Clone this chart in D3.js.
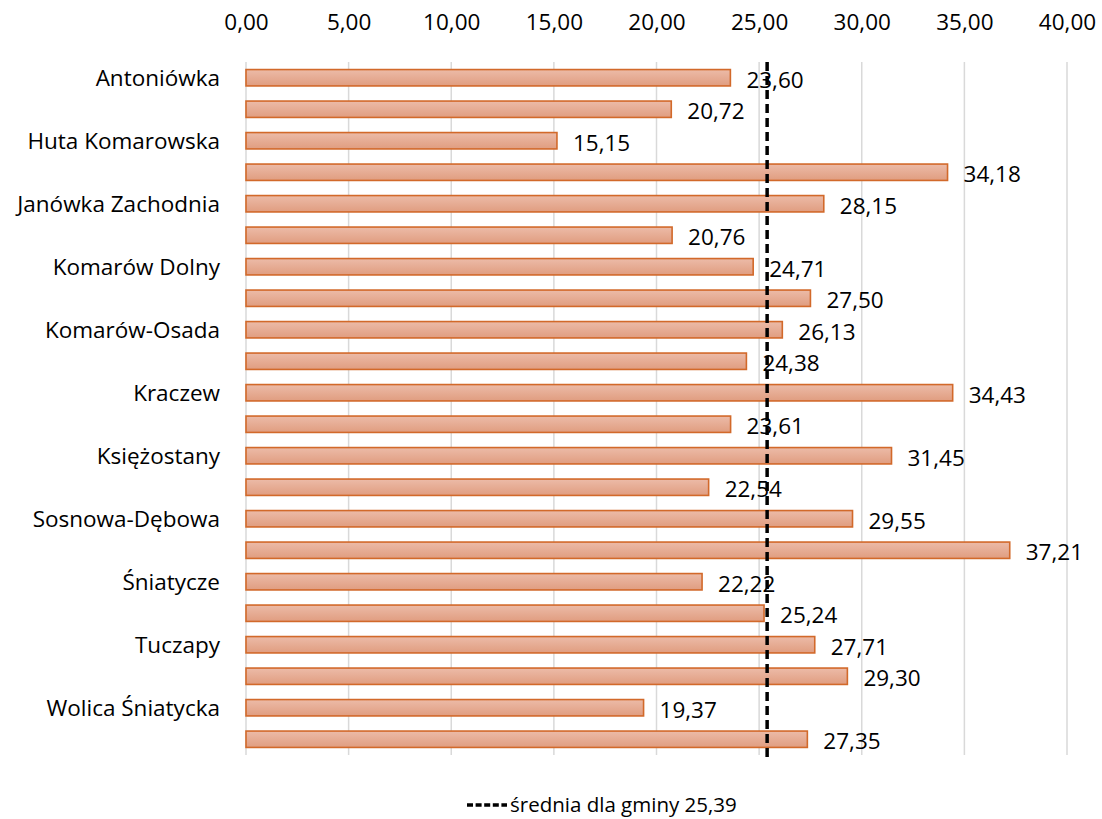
<!DOCTYPE html>
<html><head><meta charset="utf-8">
<script src="https://cdn.jsdelivr.net/npm/d3@7"></script>
<style>body{margin:0;background:#fff}svg{display:block}text{font-family:"Open Sans",sans-serif;fill:#000}</style>
</head><body>
<script>
const categories = ["Antoniówka","","Huta Komarowska","","Janówka Zachodnia","","Komarów Dolny","","Komarów-Osada","","Kraczew","","Księżostany","","Sosnowa-Dębowa","","Śniatycze","","Tuczapy","","Wolica Śniatycka",""];
const values = [23.60,20.72,15.15,34.18,28.15,20.76,24.71,27.50,26.13,24.38,34.43,23.61,31.45,22.54,29.55,37.21,22.22,25.24,27.71,29.30,19.37,27.35];
const xTicks = [0,5,10,15,20,25,30,35,40];
const average = 25.39;
const legendLabel = "średnia dla gminy 25,39";

const W = 1102, H = 819, FS = 22.5, FN = 22.5, FL = 20.5;
const svg = d3.select("body").append("svg").attr("width", W).attr("height", H);
const defs = svg.append("defs");
const g = defs.append("linearGradient").attr("id","barg").attr("x1",0).attr("y1",0).attr("x2",0).attr("y2",1);
g.append("stop").attr("offset","0%").attr("stop-color","#ecbba8");
g.append("stop").attr("offset","100%").attr("stop-color","#e09d80");

const x = d3.scaleLinear().domain([0,40]).range([246,1067]);
const y = d3.scaleBand().domain(d3.range(values.length)).range([62,755]).paddingInner(0.48).paddingOuter(0.24);
const fmt = v => d3.format(".2f")(v).replace(".", ",");

// grid
svg.append("g").selectAll("line").data(xTicks).join("line")
  .attr("x1", d => x(d)).attr("x2", d => x(d)).attr("y1", 62).attr("y2", 755)
  .attr("stroke", "#d9d9d9").attr("stroke-width", 1.5);

// top axis
const ax = svg.append("g").attr("transform","translate(0,22)")
  .call(d3.axisTop(x).tickValues(xTicks).tickFormat(fmt).tickSize(0).tickPadding(0));
ax.select(".domain").remove();
ax.selectAll("text").attr("font-size", FN).attr("dy", "0.35em").style("font-family","'Open Sans',sans-serif");

// category labels
svg.append("g").selectAll("text").data(categories).join("text")
  .attr("x", 220).attr("y", (d,i) => y(i) + y.bandwidth()/2).attr("dy","0.35em")
  .attr("text-anchor","end").attr("font-size", FS).text(d => d);

// bars
svg.append("g").selectAll("rect").data(values).join("rect")
  .attr("x", x(0)).attr("y", (d,i) => y(i)).attr("width", d => x(d) - x(0)).attr("height", y.bandwidth())
  .attr("fill","url(#barg)").attr("stroke","#d2692a").attr("stroke-width",1.6);

// value labels
svg.append("g").selectAll("text").data(values).join("text")
  .attr("x", d => x(d) + 16).attr("y", (d,i) => y(i) + y.bandwidth()/2 + 2).attr("dy","0.35em")
  .attr("font-size", FN).text(d => fmt(d));

// average line
svg.append("line").attr("x1", x(average)).attr("x2", x(average)).attr("y1", 62).attr("y2", 762)
  .attr("stroke","#000").attr("stroke-width",3.5).attr("stroke-dasharray","9,5");

// legend
const lg = svg.append("g");
lg.append("line").attr("x1",467).attr("x2",507).attr("y1",805).attr("y2",805)
  .attr("stroke","#000").attr("stroke-width",3.5).attr("stroke-dasharray","6,2.6");
lg.append("text").attr("x",510).attr("y",805).attr("dy","0.35em").attr("font-size",FL).text(legendLabel);
</script>
</body></html>
